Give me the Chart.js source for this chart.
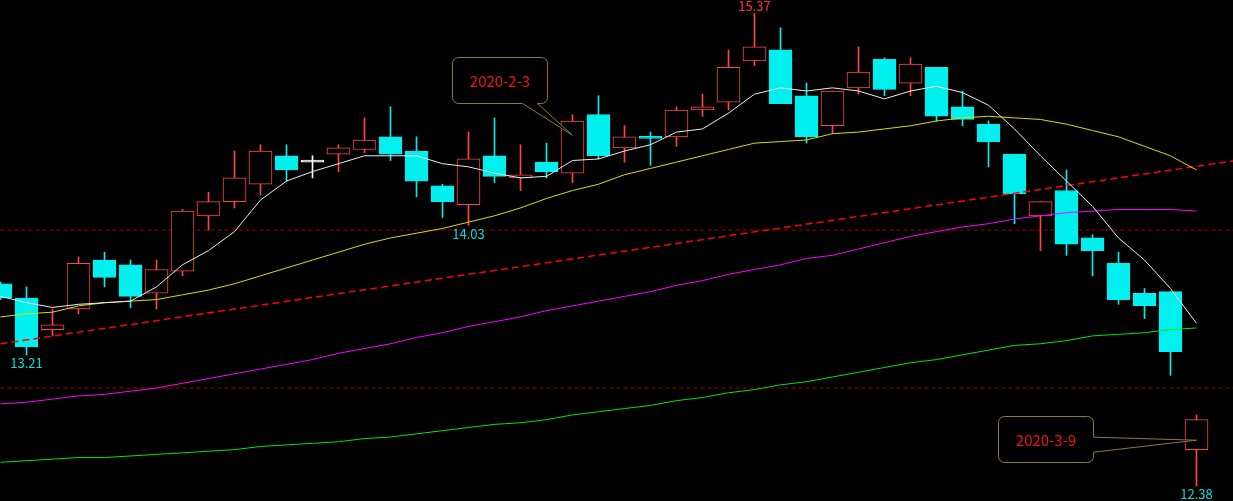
<!DOCTYPE html>
<html>
<head>
<meta charset="utf-8">
<script src="https://cdn.jsdelivr.net/npm/chart.js@4.4.1/dist/chart.umd.min.js"></script>
<style>
  html, body { margin: 0; padding: 0; background: #000; }
  #wrap { width: 1233px; height: 501px; }
</style>
</head>
<body>
<div id="wrap"><canvas id="kline"></canvas></div>
<script>
// daily candles, index 0..46
const opens  = [13.66,13.57,13.37,13.50,13.81,13.78,13.60,13.74,14.09,14.18,14.29,14.47,14.43,14.48,14.51,14.59,14.50,14.28,14.16,14.47,14.33,14.43,14.36,14.73,14.52,14.59,14.59,14.76,14.81,15.07,15.14,14.85,14.66,14.90,15.08,14.93,15.03,14.78,14.67,14.48,14.09,14.25,13.95,13.79,13.60,13.61,12.61];
const highs  = [13.67,13.64,13.50,13.83,13.86,13.81,13.81,14.13,14.24,14.50,14.54,14.54,14.47,14.54,14.71,14.78,14.59,14.29,14.62,14.71,14.54,14.55,14.73,14.85,14.66,14.62,14.78,14.86,15.14,15.37,15.28,14.93,14.88,15.16,15.09,15.09,15.03,14.88,14.69,14.48,14.18,14.38,13.97,13.86,13.63,13.61,12.83];
const lows   = [13.56,13.21,13.33,13.47,13.64,13.51,13.50,13.71,14.00,14.14,14.22,14.31,14.33,14.37,14.49,14.44,14.21,14.08,14.03,14.30,14.25,14.33,14.30,14.45,14.43,14.41,14.53,14.72,14.76,15.04,14.80,14.55,14.61,14.86,14.85,14.85,14.69,14.66,14.40,14.04,13.87,13.84,13.71,13.53,13.44,13.08,12.38];
const closes = [13.57,13.26,13.40,13.79,13.70,13.58,13.75,14.12,14.18,14.33,14.50,14.38,14.43,14.52,14.57,14.48,14.31,14.18,14.45,14.34,14.35,14.37,14.69,14.47,14.59,14.58,14.76,14.78,15.03,15.16,14.80,14.59,14.88,15.00,14.89,15.05,14.72,14.70,14.56,14.23,14.18,13.91,13.87,13.56,13.52,13.23,12.80];

// moving averages
const ma5   = [13.58,13.54,13.51,13.53,13.54,13.55,13.64,13.78,13.87,13.99,14.19,14.31,14.37,14.42,14.47,14.47,14.47,14.42,14.40,14.36,14.33,14.34,14.44,14.45,14.50,14.54,14.62,14.64,14.74,14.86,14.90,14.88,14.90,14.88,14.83,14.88,14.91,14.87,14.79,14.64,14.47,14.31,14.15,13.95,13.81,13.63,13.41];
const ma20  = [13.45,13.47,13.48,13.52,13.54,13.55,13.56,13.59,13.62,13.66,13.71,13.76,13.81,13.86,13.91,13.95,13.98,14.01,14.05,14.09,14.14,14.20,14.25,14.29,14.35,14.39,14.43,14.47,14.51,14.55,14.56,14.57,14.61,14.62,14.64,14.66,14.69,14.71,14.72,14.71,14.70,14.67,14.63,14.59,14.53,14.47,14.38];
const ma60  = [12.90,12.91,12.93,12.95,12.96,12.98,13.00,13.03,13.06,13.09,13.12,13.15,13.18,13.22,13.25,13.28,13.32,13.35,13.39,13.42,13.45,13.49,13.52,13.55,13.58,13.61,13.65,13.68,13.72,13.75,13.78,13.82,13.84,13.88,13.92,13.96,13.99,14.02,14.04,14.07,14.09,14.11,14.12,14.13,14.13,14.13,14.12];
const ma120 = [12.53,12.54,12.55,12.56,12.56,12.57,12.58,12.59,12.60,12.61,12.63,12.64,12.65,12.66,12.68,12.69,12.71,12.73,12.75,12.77,12.78,12.80,12.83,12.85,12.87,12.89,12.92,12.94,12.97,12.99,13.02,13.04,13.07,13.10,13.13,13.16,13.18,13.21,13.24,13.27,13.28,13.30,13.33,13.34,13.35,13.37,13.38];

// trend line end points (index, price) and horizontal levels
const trendX = [0, 47.5];
const trendY = [13.28, 14.44];
const levels = [14, 13];

// price tags: which candle, and whether high or low
const tagIndex = [29, 18, 1, 46];
const tagKind  = ['high', 'low', 'low', 'low'];

// date callouts
const calloutText  = ['2020-2-3', '2020-3-9'];
const calloutIndex = [22, 46];
const calloutPrice = [14.60, 12.67];

const UP = '#ff4646', DOWN = '#00f0f0', FLAT = '#ffffff';
const idx = closes.map((c, i) => i);
const candleColor = idx.map(i => closes[i] > opens[i] ? UP : (closes[i] < opens[i] ? DOWN : FLAT));
const bodyFill = idx.map(i => closes[i] > opens[i] ? '#000000' : candleColor[i]);

function lineSet(values, color) {
    return {
        type: 'line',
        data: values.map((v, i) => ({ x: i, y: v })),
        borderColor: color,
        borderWidth: 1,
        pointRadius: 0,
        tension: 0,
        order: 0
    };
}

function roundBoxPath(ctx, l, t, r, b, rad, side, a1, a2, tx, ty) {
    ctx.beginPath();
    ctx.moveTo(l + rad, t);
    ctx.lineTo(r - rad, t);
    ctx.arcTo(r, t, r, t + rad, rad);
    if (side === 'right') {
        ctx.lineTo(r, a1);
        ctx.lineTo(tx, ty);
        ctx.lineTo(r, a2);
    }
    ctx.lineTo(r, b - rad);
    ctx.arcTo(r, b, r - rad, b, rad);
    if (side === 'bottom') {
        ctx.lineTo(a2, b);
        ctx.lineTo(tx, ty);
        ctx.lineTo(a1, b);
    }
    ctx.lineTo(l + rad, b);
    ctx.arcTo(l, b, l, b - rad, rad);
    ctx.lineTo(l, t + rad);
    ctx.arcTo(l, t, l + rad, t, rad);
    ctx.closePath();
}

const labelsPlugin = {
    id: 'klineLabels',
    afterDatasetsDraw(chart) {
        const ctx = chart.ctx;
        const xs = chart.scales.x, ys = chart.scales.y;
        ctx.save();
        ctx.font = '13px "Noto Sans CJK SC", "Liberation Sans", sans-serif';
        ctx.textAlign = 'center';
        tagIndex.forEach((i, k) => {
            const x = xs.getPixelForValue(i);
            if (tagKind[k] === 'high') {
                ctx.fillStyle = '#ff3232';
                ctx.textBaseline = 'bottom';
                ctx.fillText(highs[i].toFixed(2), x, ys.getPixelForValue(highs[i]) - 1);
            } else {
                ctx.fillStyle = '#00dede';
                ctx.textBaseline = 'top';
                ctx.fillText(lows[i].toFixed(2), x, ys.getPixelForValue(lows[i]) + 2);
            }
        });

        // callout boxes: offsets from the tip
        const boxes = [
            { l: -120, r: -25, t: -78, b: -32, side: 'bottom', a1: -50, a2: -35 },
            { l: -198, r: -103, t: -24, b: 22, side: 'right', a1: -3, a2: 12 }
        ];
        ctx.font = '15px "Noto Sans CJK SC", "Liberation Sans", sans-serif';
        ctx.textBaseline = 'middle';
        calloutText.forEach((txt, k) => {
            const tx = xs.getPixelForValue(calloutIndex[k]);
            const ty = ys.getPixelForValue(calloutPrice[k]);
            const bx = boxes[k];
            const l = Math.round(tx + bx.l) + 0.5, r = Math.round(tx + bx.r) + 0.5;
            const t = Math.round(ty + bx.t) + 0.5, b = Math.round(ty + bx.b) + 0.5;
            const a1 = bx.side === 'bottom' ? tx + bx.a1 : ty + bx.a1;
            const a2 = bx.side === 'bottom' ? tx + bx.a2 : ty + bx.a2;
            roundBoxPath(ctx, l, t, r, b, 6, bx.side, a1, a2, tx, ty);
            ctx.fillStyle = '#000000';
            ctx.fill();
            ctx.strokeStyle = '#8c7840';
            ctx.lineWidth = 1;
            ctx.stroke();
            ctx.fillStyle = '#f01414';
            ctx.fillText(txt, (l + r) / 2, (t + b) / 2 + 1);
        });
        ctx.restore();
    }
};

const ctx = document.getElementById('kline').getContext('2d');
const chart = new Chart(ctx, {
    type: 'bar',
    data: {
        datasets: [
            lineSet(ma5, '#ececec'),
            lineSet(ma20, '#dcdc00'),
            lineSet(ma60, '#ff00ff'),
            lineSet(ma120, '#00e600'),
            {
                type: 'line',
                data: trendX.map((x, k) => ({ x: x, y: trendY[k] })),
                borderColor: '#ff0000',
                borderWidth: 1.5,
                borderDash: [7, 4],
                pointRadius: 0,
                order: 0
            },
            ...levels.map(v => ({
                type: 'line',
                data: trendX.map(x => ({ x: x, y: v })),
                borderColor: '#a00000',
                borderWidth: 1,
                borderDash: [4, 3],
                pointRadius: 0,
                order: 4
            })),
            {
                // bodies
                data: idx.map(i => ({ x: i, y: [opens[i], closes[i]] })),
                backgroundColor: bodyFill,
                borderColor: candleColor,
                borderWidth: 1,
                borderSkipped: false,
                barThickness: 23,
                minBarLength: 2,
                grouped: false,
                order: 2
            },
            {
                // wicks
                data: idx.map(i => ({ x: i, y: [lows[i], highs[i]] })),
                backgroundColor: candleColor,
                borderWidth: 0,
                barThickness: 1,
                grouped: false,
                order: 3
            }
        ]
    },
    options: {
        responsive: true,
        maintainAspectRatio: false,
        animation: false,
        layout: { padding: 0 },
        scales: {
            x: { type: 'linear', min: -0.0192, max: 47.4039, offset: false, display: false },
            y: { min: 12.285, max: 15.456, display: false }
        },
        plugins: {
            legend: { display: false },
            tooltip: { enabled: false }
        }
    },
    plugins: [labelsPlugin]
});
window.myChart = chart;
</script>
</body>
</html>
